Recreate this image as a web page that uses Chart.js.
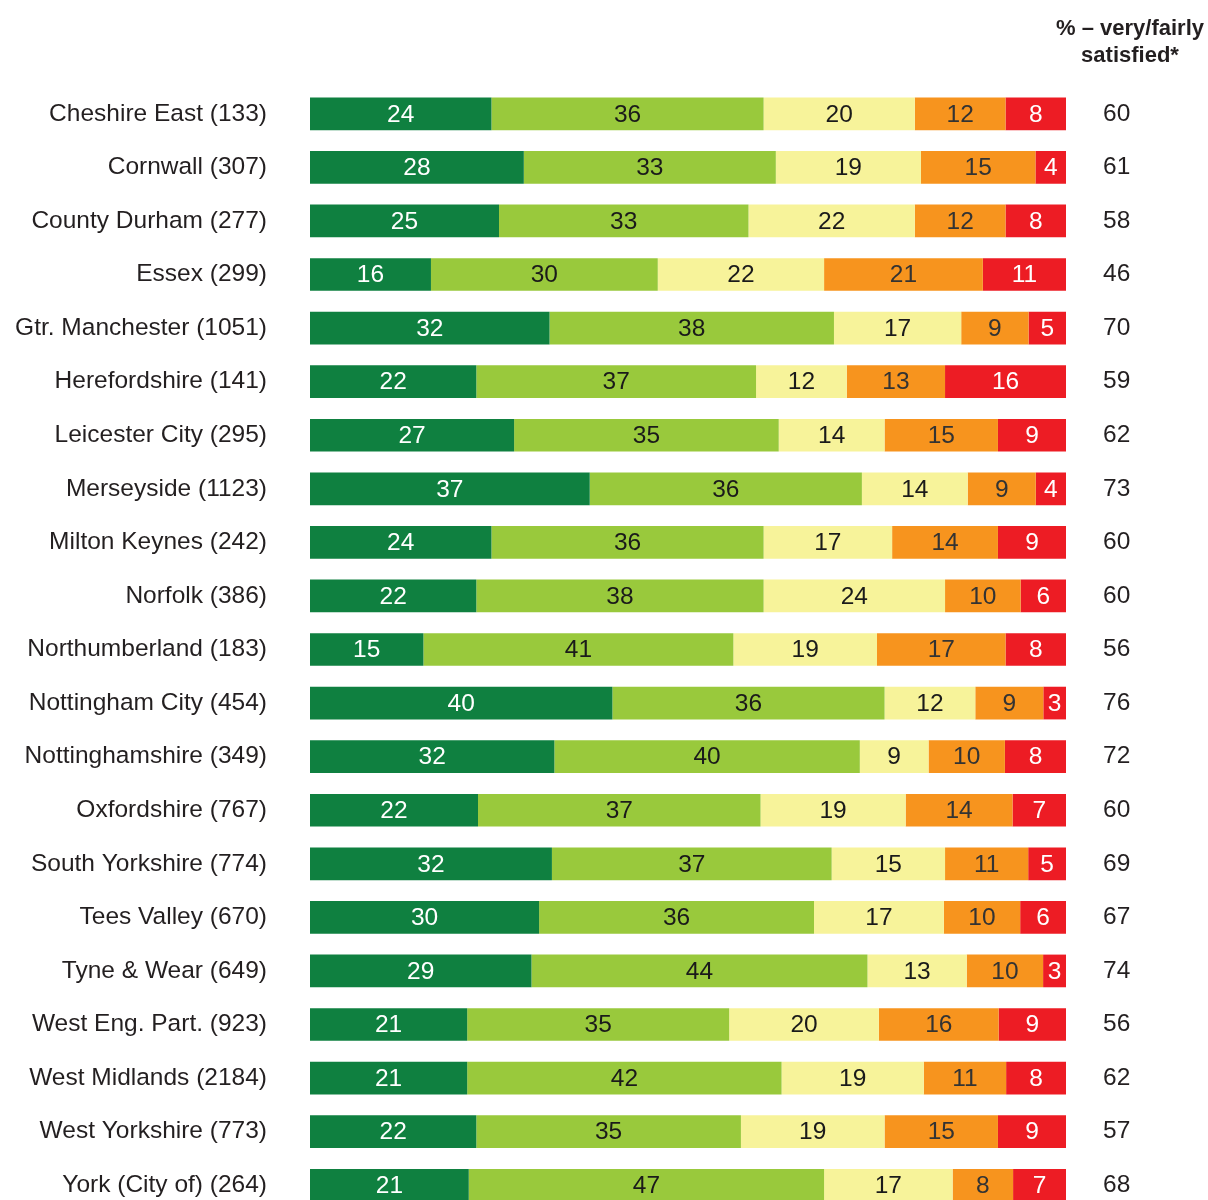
<!DOCTYPE html>
<html>
<head>
<meta charset="utf-8">
<script src="https://cdn.jsdelivr.net/npm/chart.js@4/dist/chart.umd.min.js"></script>
<style>
  html, body { margin: 0; padding: 0; background: #fff; overflow: hidden; }
  #wrap { position: relative; width: 1208px; height: 1212px; }
  #head {
    position: absolute; left: 1050px; top: 14px; width: 160px;
    text-align: center; font: bold 22px "Liberation Sans", Arial, sans-serif;
    line-height: 27px; color: #231f20;
  }
</style>
</head>
<body>
<div id="wrap">
  <canvas id="c" width="1208" height="1212"></canvas>
  <div id="head">% – very/fairly<br>satisfied*</div>
</div>
<script>
const categories = [
  'Cheshire East (133)', 'Cornwall (307)', 'County Durham (277)', 'Essex (299)',
  'Gtr. Manchester (1051)', 'Herefordshire (141)', 'Leicester City (295)',
  'Merseyside (1123)', 'Milton Keynes (242)', 'Norfolk (386)',
  'Northumberland (183)', 'Nottingham City (454)', 'Nottinghamshire (349)',
  'Oxfordshire (767)', 'South Yorkshire (774)', 'Tees Valley (670)',
  'Tyne & Wear (649)', 'West Eng. Part. (923)', 'West Midlands (2184)',
  'West Yorkshire (773)', 'York (City of) (264)'
];
const verySatisfied    = [24, 28, 25, 16, 32, 22, 27, 37, 24, 22, 15, 40, 32, 22, 32, 30, 29, 21, 21, 22, 21];
const fairlySatisfied  = [36, 33, 33, 30, 38, 37, 35, 36, 36, 38, 41, 36, 40, 37, 37, 36, 44, 35, 42, 35, 47];
const neither          = [20, 19, 22, 22, 17, 12, 14, 14, 17, 24, 19, 12,  9, 19, 15, 17, 13, 20, 19, 19, 17];
const fairlyDissatisfied = [12, 15, 12, 21, 9, 13, 15, 9, 14, 10, 17, 9, 10, 14, 11, 10, 10, 16, 11, 15, 8];
const veryDissatisfied = [ 8,  4,  8, 11,  5, 16,  9,  4,  9,  6,  8,  3,  8,  7,  5,  6,  3,  9,  8,  9,  7];
const satisfiedTotal   = [60, 61, 58, 46, 70, 59, 62, 73, 60, 60, 56, 76, 72, 60, 69, 67, 74, 56, 62, 57, 68];

const seriesValues = [verySatisfied, fairlySatisfied, neither, fairlyDissatisfied, veryDissatisfied];
const seriesNames = ['Very satisfied', 'Fairly satisfied', 'Neither', 'Fairly dissatisfied', 'Very dissatisfied'];
const seriesColors = ['#0f8040', '#99c93c', '#f7f39a', '#f7941e', '#ed1c24'];
const labelColors = ['#ffffff', '#1a1a1a', '#1a1a1a', '#333333', '#ffffff'];

// Each row is scaled to its own total so every bar spans the full width.
const rowTotals = categories.map((_, i) => seriesValues.reduce((s, arr) => s + arr[i], 0));

const FONT = '"Liberation Sans", Arial, sans-serif';
const TEXT = '#231f20';

const datasets = seriesValues.map((vals, k) => ({
  label: seriesNames[k],
  data: vals.map((v, i) => v / rowTotals[i] * 100),
  raw: vals,
  backgroundColor: seriesColors[k],
  borderWidth: 0,
  barPercentage: 0.61,
  categoryPercentage: 1.0,
  yAxisID: 'y'
}));

// Writes each segment's value in the middle of its bar segment.
const segmentLabels = {
  id: 'segmentLabels',
  afterDatasetsDraw(chart) {
    const ctx = chart.ctx;
    ctx.save();
    ctx.font = '24.5px ' + FONT;
    ctx.textAlign = 'center';
    ctx.textBaseline = 'middle';
    chart.data.datasets.forEach((ds, k) => {
      const meta = chart.getDatasetMeta(k);
      meta.data.forEach((bar, i) => {
        const cx = (bar.x + bar.base) / 2;
        ctx.fillStyle = labelColors[k];
        ctx.fillText(String(ds.raw[i]), cx, bar.y + 1);
      });
    });
    ctx.restore();
  }
};

// Side axes keep a fixed width and do not reserve extra room above/below.
function fixedSide(width) {
  return function (scale) {
    scale.width = width;
    scale.paddingTop = 0;
    scale.paddingBottom = 0;
  };
}

new Chart(document.getElementById('c'), {
  type: 'bar',
  data: { labels: categories, datasets },
  plugins: [segmentLabels],
  options: {
    indexAxis: 'y',
    responsive: false,
    animation: false,
    devicePixelRatio: 1,
    layout: { padding: { top: 87, bottom: 0, left: 0, right: 0 } },
    plugins: { legend: { display: false }, tooltip: { enabled: false } },
    scales: {
      x: { stacked: true, min: 0, max: 100, display: false },
      y: {
        stacked: true,
        position: 'left',
        grid: { display: false, drawTicks: false },
        border: { display: false },
        ticks: { color: TEXT, font: { family: FONT, size: 24.5 }, padding: 43 },
        afterFit: fixedSide(310)
      },
      y2: {
        type: 'category',
        labels: satisfiedTotal.map(String),
        position: 'right',
        offset: true,
        grid: { display: false, drawTicks: false },
        border: { display: false },
        ticks: { color: TEXT, font: { family: FONT, size: 24.5 }, padding: 37 },
        afterFit: fixedSide(142)
      }
    }
  }
});
</script>
</body>
</html>
